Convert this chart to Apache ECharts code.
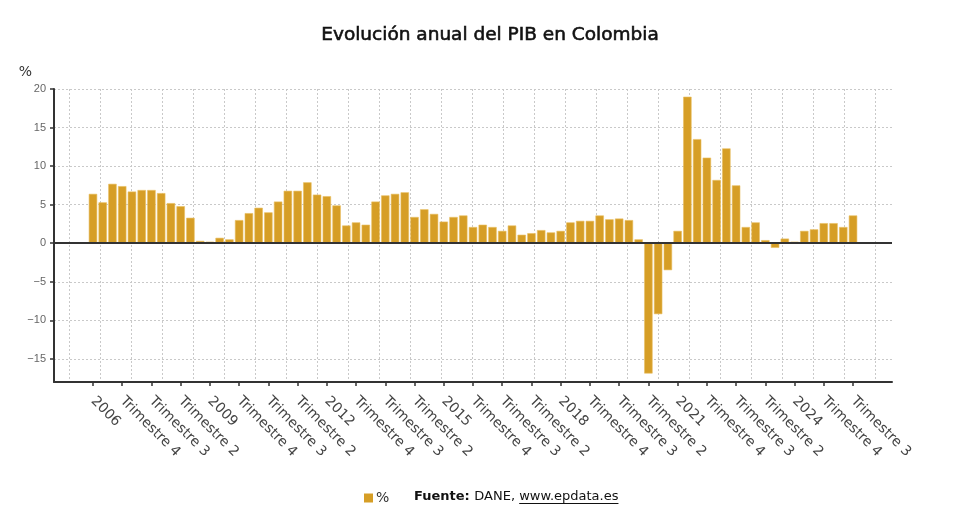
<!DOCTYPE html>
<html>
<head>
<meta charset="utf-8">
<title>Evolución anual del PIB en Colombia</title>
<script src="https://cdn.jsdelivr.net/npm/echarts@6.0.0/dist/echarts.min.js"></script>
<style>
  html, body { margin: 0; padding: 0; background: #fff; }
  #chart { width: 980px; height: 532px; }
</style>
</head>
<body>
<div id="chart"></div>
<script>
(function () {
  var FONT = '"DejaVu Sans", "Noto Sans", sans-serif';
  var NUM_FONT = '"Liberation Sans", Arial, sans-serif';
  var BAR = '#d69e26';
  var AXIS = '#333';
  var GRID_LINE = '#c9c9c9';

  // years and quarter names used for the category labels
  var YEARS = ['2006', '2007', '2008', '2009', '2010', '2011', '2012', '2013', '2014', '2015',
    '2016', '2017', '2018', '2019', '2020', '2021', '2022', '2023', '2024', '2025'];
  var QUARTERS = [null, 'Trimestre 2', 'Trimestre 3', 'Trimestre 4'];

  // tasa anual del PIB (%), trimestral, 2006 T1 .. 2025 T3
  var PIB = [
    6.4, 5.3, 7.7, 7.4,
    6.7, 6.9, 6.9, 6.5,
    5.2, 4.8, 3.3, 0.3,
    0.2, 0.7, 0.5, 3.0,
    3.9, 4.6, 4.0, 5.4,
    6.8, 6.8, 7.9, 6.3,
    6.1, 4.9, 2.3, 2.7,
    2.4, 5.4, 6.2, 6.4,
    6.6, 3.4, 4.4, 3.8,
    2.8, 3.4, 3.6, 2.1,
    2.4, 2.1, 1.6, 2.3,
    1.1, 1.3, 1.7, 1.4,
    1.6, 2.7, 2.9, 2.9,
    3.6, 3.1, 3.2, 3.0,
    0.5, -16.9, -9.2, -3.5,
    1.6, 19.0, 13.5, 11.1,
    8.2, 12.3, 7.5, 2.1,
    2.7, 0.4, -0.6, 0.6,
    0.2, 1.6, 1.8, 2.6,
    2.6, 2.1, 3.6
  ];

  var Y_MIN = -18;
  var Y_MAX = 20;
  var PAD = 4; // empty slots either side of the bars

  var categories = [];
  for (var i = 0; i < PIB.length; i++) {
    var q = i % 4;
    categories.push(q === 0 ? YEARS[i / 4] : QUARTERS[q]);
  }

  var padCats = [];
  var padVals = [];
  for (var p = 0; p < PAD; p++) { padCats.push(''); padVals.push(null); }
  var axisCats = padCats.concat(categories, padCats);
  var axisVals = padVals.concat(PIB, padVals);

  function showLabel(index) {
    return index >= PAD && index < PAD + PIB.length && (index - PAD) % 3 === 0;
  }

  var GRID = { left: 54, right: 88, top: 89, bottom: 150 };

  // measure the source line so the link can get its underline
  var ctx = document.createElement('canvas').getContext('2d');
  function textWidth(str, font) { ctx.font = font; return ctx.measureText(str).width; }
  var SRC_X = 414;
  var SRC_Y = 497;
  var boldFont = 'bold 13px ' + FONT;
  var regFont = '13px ' + FONT;
  var w1 = textWidth('Fuente: ', boldFont);
  var w2 = textWidth('DANE, ', regFont);
  var w3 = textWidth('www.epdata.es', regFont);

  var chart = echarts.init(document.getElementById('chart'), null, { renderer: 'canvas' });

  chart.setOption({
    animation: false,
    backgroundColor: '#fff',
    textStyle: { fontFamily: FONT },
    title: {
      text: 'Evolución anual del PIB en Colombia',
      left: 'center',
      top: 21,
      textStyle: {
        fontFamily: FONT, fontSize: 18.5, fontWeight: 'normal', color: '#111',
        textBorderColor: '#111', textBorderWidth: 0.6
      }
    },
    legend: {
      left: 359,
      top: 486,
      icon: 'rect',
      itemWidth: 9,
      itemHeight: 9,
      itemStyle: { borderWidth: 0 },
      textStyle: { fontFamily: FONT, fontSize: 14, color: '#333', padding: [0, 0, 0, -2] },
      data: ['%']
    },
    grid: [
      { left: GRID.left, right: GRID.right, top: GRID.top, bottom: GRID.bottom, containLabel: false },
      { left: 69, right: 105, top: GRID.top, bottom: GRID.bottom, containLabel: false }
    ],
    xAxis: [{
      type: 'category',
      gridIndex: 0,
      data: axisCats,
      boundaryGap: false,
      position: 'bottom',
      axisLine: { onZero: false, lineStyle: { color: AXIS, width: 2 } },
      axisTick: { show: true, interval: function (idx) { return showLabel(idx); }, length: 4, lineStyle: { color: AXIS, width: 1.5 } },
      axisLabel: {
        interval: function (idx) { return showLabel(idx); },
        rotate: -45,
        margin: 17,
        fontFamily: FONT,
        fontSize: 14,
        color: '#444'
      },
      splitLine: { show: false }
    }, {
      type: 'value',
      gridIndex: 1,
      min: 0,
      max: 26,
      interval: 1,
      axisLine: { show: false },
      axisTick: { show: false },
      axisLabel: { show: false },
      splitLine: { show: true, showMinLine: true, showMaxLine: true, lineStyle: { color: GRID_LINE, type: [2, 2], width: 1 } }
    }],
    yAxis: [{
      type: 'value',
      gridIndex: 0,
      min: Y_MIN,
      max: Y_MAX,
      splitNumber: 8,
      name: '%',
      nameLocation: 'end',
      nameGap: 10,
      nameTextStyle: { fontFamily: FONT, fontSize: 14, color: '#333', align: 'right', padding: [0, 22, 0, 0] },
      axisLine: { show: true, lineStyle: { color: AXIS, width: 2 } },
      axisTick: { show: true, length: 4, lineStyle: { color: AXIS, width: 1.5 } },
      axisLabel: {
        showMinLabel: false,
        fontFamily: NUM_FONT,
        fontSize: 11,
        color: '#666',
        margin: 8,
        formatter: function (v) { return String(v).replace('-', '\u2212'); }
      },
      splitLine: { show: true, lineStyle: { color: GRID_LINE, type: [2, 2], width: 1 } }
    }, {
      type: 'value',
      gridIndex: 1,
      show: false,
      min: 0,
      max: 1,
      splitLine: { show: false }
    }],
    series: [{
      name: '%',
      type: 'bar',
      xAxisIndex: 0,
      yAxisIndex: 0,
      data: axisVals,
      barWidth: 8.4,
      itemStyle: { color: BAR, borderColor: '#e9bf62', borderWidth: 0.6 },
      markLine: {
        silent: true,
        symbol: ['none', 'none'],
        label: { show: false },
        lineStyle: { color: AXIS, width: 2, type: 'solid' },
        data: [{ yAxis: 0 }]
      }
    }],
    graphic: [
      { type: 'text', x: SRC_X, y: SRC_Y, style: { text: 'Fuente:', font: boldFont, fill: '#111', verticalAlign: 'middle' } },
      { type: 'text', x: SRC_X + w1, y: SRC_Y, style: { text: 'DANE,', font: regFont, fill: '#111', verticalAlign: 'middle' } },
      { type: 'text', x: SRC_X + w1 + w2, y: SRC_Y, style: { text: 'www.epdata.es', font: regFont, fill: '#111', verticalAlign: 'middle' } },
      { type: 'line', shape: { x1: SRC_X + w1 + w2, y1: SRC_Y + 6.5, x2: SRC_X + w1 + w2 + w3, y2: SRC_Y + 6.5 }, style: { stroke: '#111', lineWidth: 1 } }
    ]
  });

  window.addEventListener('resize', function () { chart.resize(); });
})();
</script>
</body>
</html>
